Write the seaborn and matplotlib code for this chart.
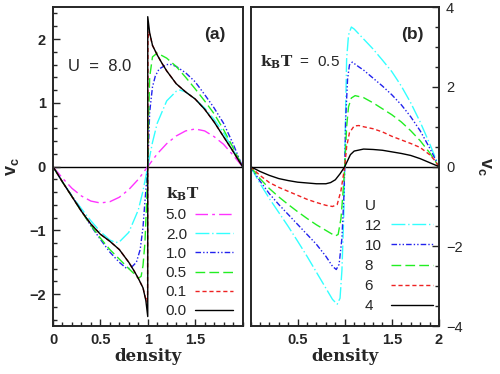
import numpy as np
import pandas as pd
import matplotlib
matplotlib.use("Agg")
import matplotlib.pyplot as plt
from matplotlib.lines import Line2D
from matplotlib.ticker import MultipleLocator, FuncFormatter
import seaborn as sns

# ---- panel (a): U = 8.0, different k_B T ----
kbt_labels = ["5.0", "2.0", "1.0", "0.5", "0.1", "0.0"]

n_kbt50 = [0, 0.1, 0.2, 0.3, 0.4, 0.5, 0.6, 0.7, 0.8, 0.9, 1.0,
           1.1, 1.2, 1.3, 1.4, 1.5, 1.6, 1.7, 1.8, 1.9, 2.0]
v_kbt50 = [0, -0.18, -0.34, -0.46, -0.54, -0.57, -0.55, -0.48, -0.36, -0.2, 0,
           0.2, 0.36, 0.48, 0.56, 0.59, 0.56, 0.47, 0.35, 0.18, 0]

n_kbt20 = [0, 0.1, 0.2, 0.3, 0.4, 0.5, 0.6, 0.66, 0.7, 0.8, 0.9, 0.95, 1.0,
           1.05, 1.1, 1.2, 1.3, 1.34, 1.4, 1.5, 1.6, 1.7, 1.8, 1.9, 2.0]
v_kbt20 = [0, -0.24, -0.46, -0.66, -0.85, -1.02, -1.15, -1.19, -1.18, -1.03, -0.68, -0.38, 0,
           0.38, 0.68, 1.03, 1.18, 1.2, 1.17, 1.06, 0.92, 0.74, 0.53, 0.27, 0]

n_kbt10 = [0, 0.1, 0.2, 0.3, 0.4, 0.5, 0.6, 0.7, 0.78, 0.82, 0.88, 0.92, 0.95, 0.97, 0.99, 1.0,
           1.01, 1.02, 1.05, 1.08, 1.12, 1.2, 1.25, 1.3, 1.4, 1.5, 1.6, 1.7, 1.8, 1.9, 2.0]
v_kbt10 = [0, -0.24, -0.46, -0.69, -0.93, -1.14, -1.34, -1.5, -1.6, -1.59, -1.5, -1.3, -0.95, -0.55, -0.2, 0,
           0.4, 0.85, 1.25, 1.42, 1.53, 1.6, 1.6, 1.57, 1.47, 1.33, 1.13, 0.92, 0.68, 0.36, 0]

n_kbt05 = [0, 0.1, 0.2, 0.3, 0.4, 0.5, 0.6, 0.7, 0.8, 0.85, 0.9, 0.93, 0.95, 0.97, 0.99, 1.0,
           1.01, 1.02, 1.05, 1.1, 1.2, 1.3, 1.4, 1.5, 1.6, 1.7, 1.8, 1.9, 2.0]
v_kbt05 = [0, -0.24, -0.47, -0.7, -0.92, -1.12, -1.3, -1.45, -1.6, -1.67, -1.75, -1.72, -1.55, -1.2, -0.5, 0,
           0.8, 1.4, 1.72, 1.78, 1.7, 1.57, 1.4, 1.22, 1.03, 0.83, 0.58, 0.3, 0]

n_kbt01 = [0, 0.1, 0.2, 0.3, 0.4, 0.5, 0.6, 0.7, 0.8, 0.85, 0.9, 0.95, 0.975, 0.99, 0.998, 1.0,
           1.002, 1.01, 1.025, 1.05, 1.1, 1.15, 1.2, 1.3, 1.4, 1.5, 1.6, 1.7, 1.8, 1.9, 2.0]
v_kbt01 = [0, -0.24, -0.47, -0.7, -0.9, -1.06, -1.17, -1.3, -1.5, -1.62, -1.75, -1.9, -2.05, -2.12, -2.0, 0,
           2.0, 2.12, 2.05, 1.9, 1.75, 1.62, 1.5, 1.3, 1.17, 1.06, 0.9, 0.7, 0.47, 0.24, 0]

n_kbt00 = [0, 0.1, 0.2, 0.3, 0.4, 0.5, 0.6, 0.7, 0.8, 0.85, 0.9, 0.95, 0.98, 1.0,
           1.0, 1.02, 1.05, 1.1, 1.15, 1.2, 1.3, 1.4, 1.5, 1.6, 1.7, 1.8, 1.9, 2.0]
v_kbt00 = [0, -0.24, -0.47, -0.7, -0.9, -1.06, -1.17, -1.3, -1.5, -1.62, -1.75, -1.9, -2.1, -2.35,
           2.35, 2.1, 1.9, 1.75, 1.62, 1.5, 1.3, 1.17, 1.06, 0.9, 0.7, 0.47, 0.24, 0]

# ---- panel (b): k_B T = 0.5, different U ----
u_labels = ["12", "10", "8", "6", "4"]

n_u12 = [0, 0.1, 0.2, 0.3, 0.4, 0.5, 0.6, 0.7, 0.8, 0.87, 0.92, 0.95, 0.97, 0.99, 1.0,
         1.01, 1.02, 1.04, 1.07, 1.1, 1.2, 1.3, 1.4, 1.5, 1.6, 1.7, 1.8, 1.9, 2.0]
v_u12 = [0, -0.42, -0.8, -1.15, -1.5, -1.87, -2.25, -2.65, -3.05, -3.33, -3.45, -3.3, -2.6, -1.2, 0,
         1.5, 2.7, 3.3, 3.5, 3.45, 3.2, 2.95, 2.67, 2.38, 2.02, 1.6, 1.12, 0.58, 0]

n_u10 = [0, 0.1, 0.2, 0.3, 0.4, 0.5, 0.6, 0.7, 0.8, 0.87, 0.91, 0.94, 0.97, 0.99, 1.0,
         1.01, 1.03, 1.05, 1.08, 1.15, 1.2, 1.3, 1.4, 1.5, 1.6, 1.7, 1.8, 1.9, 2.0]
v_u10 = [0, -0.36, -0.68, -0.95, -1.2, -1.45, -1.7, -1.95, -2.25, -2.5, -2.58, -2.45, -1.8, -0.8, 0,
         1.2, 2.2, 2.55, 2.62, 2.5, 2.42, 2.22, 2.02, 1.8, 1.55, 1.25, 0.9, 0.47, 0]

n_u8 = [0, 0.1, 0.2, 0.3, 0.4, 0.5, 0.6, 0.7, 0.8, 0.9, 0.93, 0.96, 0.98, 1.0,
        1.02, 1.04, 1.07, 1.11, 1.2, 1.3, 1.4, 1.5, 1.6, 1.7, 1.8, 1.9, 2.0]
v_u8 = [0, -0.3, -0.55, -0.76, -0.95, -1.13, -1.3, -1.46, -1.6, -1.74, -1.7, -1.3, -0.7, 0,
        1.0, 1.5, 1.72, 1.78, 1.73, 1.6, 1.45, 1.3, 1.12, 0.9, 0.65, 0.35, 0]

n_u6 = [0, 0.1, 0.2, 0.3, 0.4, 0.5, 0.6, 0.7, 0.8, 0.87, 0.92, 0.96, 1.0,
        1.02, 1.05, 1.1, 1.15, 1.2, 1.3, 1.4, 1.5, 1.6, 1.7, 1.8, 1.9, 1.95, 2.0]
v_u6 = [0, -0.22, -0.4, -0.52, -0.62, -0.72, -0.82, -0.9, -0.97, -1.0, -0.95, -0.6, 0,
        0.5, 0.85, 1.02, 1.03, 1.0, 0.95, 0.87, 0.76, 0.67, 0.58, 0.48, 0.3, 0.17, 0]

n_u4 = [0, 0.1, 0.2, 0.3, 0.4, 0.5, 0.6, 0.7, 0.8, 0.85, 0.9, 0.95, 1.0,
        1.03, 1.06, 1.1, 1.2, 1.3, 1.4, 1.5, 1.6, 1.7, 1.8, 1.9, 2.0]
v_u4 = [0, -0.12, -0.22, -0.3, -0.35, -0.39, -0.41, -0.43, -0.43, -0.4, -0.33, -0.18, 0,
        0.15, 0.3, 0.39, 0.44, 0.43, 0.41, 0.37, 0.33, 0.28, 0.2, 0.1, 0]

curves_a = [(n_kbt50, v_kbt50), (n_kbt20, v_kbt20), (n_kbt10, v_kbt10),
            (n_kbt05, v_kbt05), (n_kbt01, v_kbt01), (n_kbt00, v_kbt00)]
curves_b = [(n_u12, v_u12), (n_u10, v_u10), (n_u8, v_u8), (n_u6, v_u6), (n_u4, v_u4)]

colors_a = ["#ff33ff", "#33ffff", "#2222ee", "#22ee22", "#ee2222", "#000000"]
styles_a = [(0, (9, 3, 2, 3)), (0, (10, 2, 1, 2)), (0, (4, 1.5, 1, 1.5, 1, 1.5)),
            (0, (7, 3)), (0, (3, 2)), "-"]
colors_b = ["#33ffff", "#2222ee", "#22ee22", "#ee2222", "#000000"]
styles_b = [(0, (10, 2, 1, 2)), (0, (4, 1.5, 1, 1.5, 1, 1.5)), (0, (7, 3)), (0, (3, 2)), "-"]

sns.set_style("ticks")
plt.rcParams["font.family"] = ["Liberation Sans", "DejaVu Sans"]
plt.rcParams["mathtext.fontset"] = "custom"
plt.rcParams["mathtext.bf"] = "DejaVu Serif:bold"
plt.rcParams["mathtext.sf"] = "Liberation Sans:bold"
plt.rcParams["mathtext.rm"] = "DejaVu Serif"
plt.rcParams["axes.unicode_minus"] = True

fig = plt.figure(figsize=(5, 3.74), dpi=100)
ax1 = fig.add_axes([0.106, 0.128, 0.379, 0.853])
ax2 = fig.add_axes([0.501, 0.128, 0.377, 0.853])


def draw(ax, curves, colors, styles, labels):
    handles = []
    for (n, v), c, ls, lab in zip(curves, colors, styles, labels):
        df = pd.DataFrame({"density": n, "vc": v})
        sns.lineplot(data=df, x="density", y="vc", ax=ax, color=c, linestyle=ls,
                     linewidth=1.0, estimator=None, sort=False, errorbar=None)
        handles.append(Line2D([], [], color=c, linestyle=ls, linewidth=1.0))
    ax.axhline(0, color="black", linewidth=1.0, zorder=0)
    return handles


def fmt(v, p):
    s = f"{v:g}"
    return s.replace("-", "\u2212")


h1 = draw(ax1, curves_a, colors_a, styles_a, kbt_labels)
h2 = draw(ax2, curves_b, colors_b, styles_b, u_labels)

ax1.set_xlim(0, 2)
ax1.set_ylim(-2.5, 2.5)
ax2.set_xlim(0, 2)
ax2.set_ylim(-4, 4)

ax1.xaxis.set_minor_locator(MultipleLocator(0.1))
ax1.yaxis.set_major_locator(MultipleLocator(1))
ax1.yaxis.set_minor_locator(MultipleLocator(0.2))
ax1.set_xticks([0, 0.5, 1, 1.5])
ax2.set_xticks([0.5, 1, 1.5, 2])
ax2.xaxis.set_minor_locator(MultipleLocator(0.1))
ax2.yaxis.set_major_locator(MultipleLocator(2))
ax2.yaxis.set_minor_locator(MultipleLocator(0.5))

for ax in (ax1, ax2):
    ax.xaxis.set_major_formatter(FuncFormatter(fmt))
    ax.yaxis.set_major_formatter(FuncFormatter(fmt))
    for sp in ax.spines.values():
        sp.set_visible(True)
        sp.set_linewidth(1.4)
    ax.tick_params(which="both", direction="in", top=False, width=1.0,
                   labelsize=10.5, pad=5)
    ax.tick_params(which="major", length=5)
    ax.tick_params(which="minor", length=3)
    for lab in ax.get_xticklabels() + ax.get_yticklabels():
        lab.set_fontweight("bold")
    ax.set_xlabel("density", family="DejaVu Serif", fontweight="bold", fontsize=12, labelpad=1)

ax1.tick_params(which="both", left=True, right=False)
ax2.tick_params(which="both", left=False, right=True, labelleft=False, labelright=True)
ax2.yaxis.set_label_position("right")

ax1.set_ylabel(r"$\mathsf{v_c}$", fontsize=13, labelpad=6)
ax2.set_ylabel(r"$\mathsf{v_c}$", fontsize=13, rotation=-90, labelpad=22)

ax1.text(0.08, 0.80, "U  =  8.0", transform=ax1.transAxes, fontsize=12)
ax1.text(0.8, 0.9, "(a)", transform=ax1.transAxes, fontsize=12.5, fontweight="bold")
ax2.text(0.05, 0.815, r"$\mathbf{k_BT}$  =  0.5", transform=ax2.transAxes, fontsize=11)
ax2.text(0.8, 0.9, "(b)", transform=ax2.transAxes, fontsize=12.5, fontweight="bold")

leg1 = ax1.legend(h1, kbt_labels, title=r"$\mathbf{k_BT}$", loc="upper left",
                  bbox_to_anchor=(0.595, 0.44), frameon=False, markerfirst=False,
                  handlelength=2.5, handletextpad=0.55, labelspacing=0.34,
                  fontsize=11, title_fontsize=11, borderaxespad=0, borderpad=0)
leg1._legend_box.align = "left"

# pad the one-digit labels with a figure space so the column reads left-aligned
u_legend = [s.ljust(2, "\u2007") for s in u_labels]
leg2 = ax2.legend(h2, u_legend, title="U", loc="upper left",
                  bbox_to_anchor=(0.605, 0.40), frameon=False, markerfirst=False,
                  handlelength=2.75, handletextpad=0.6, labelspacing=0.4,
                  fontsize=11, title_fontsize=11, borderaxespad=0, borderpad=0)
leg2._legend_box.align = "left"

fig.savefig("out.png", dpi=100)
